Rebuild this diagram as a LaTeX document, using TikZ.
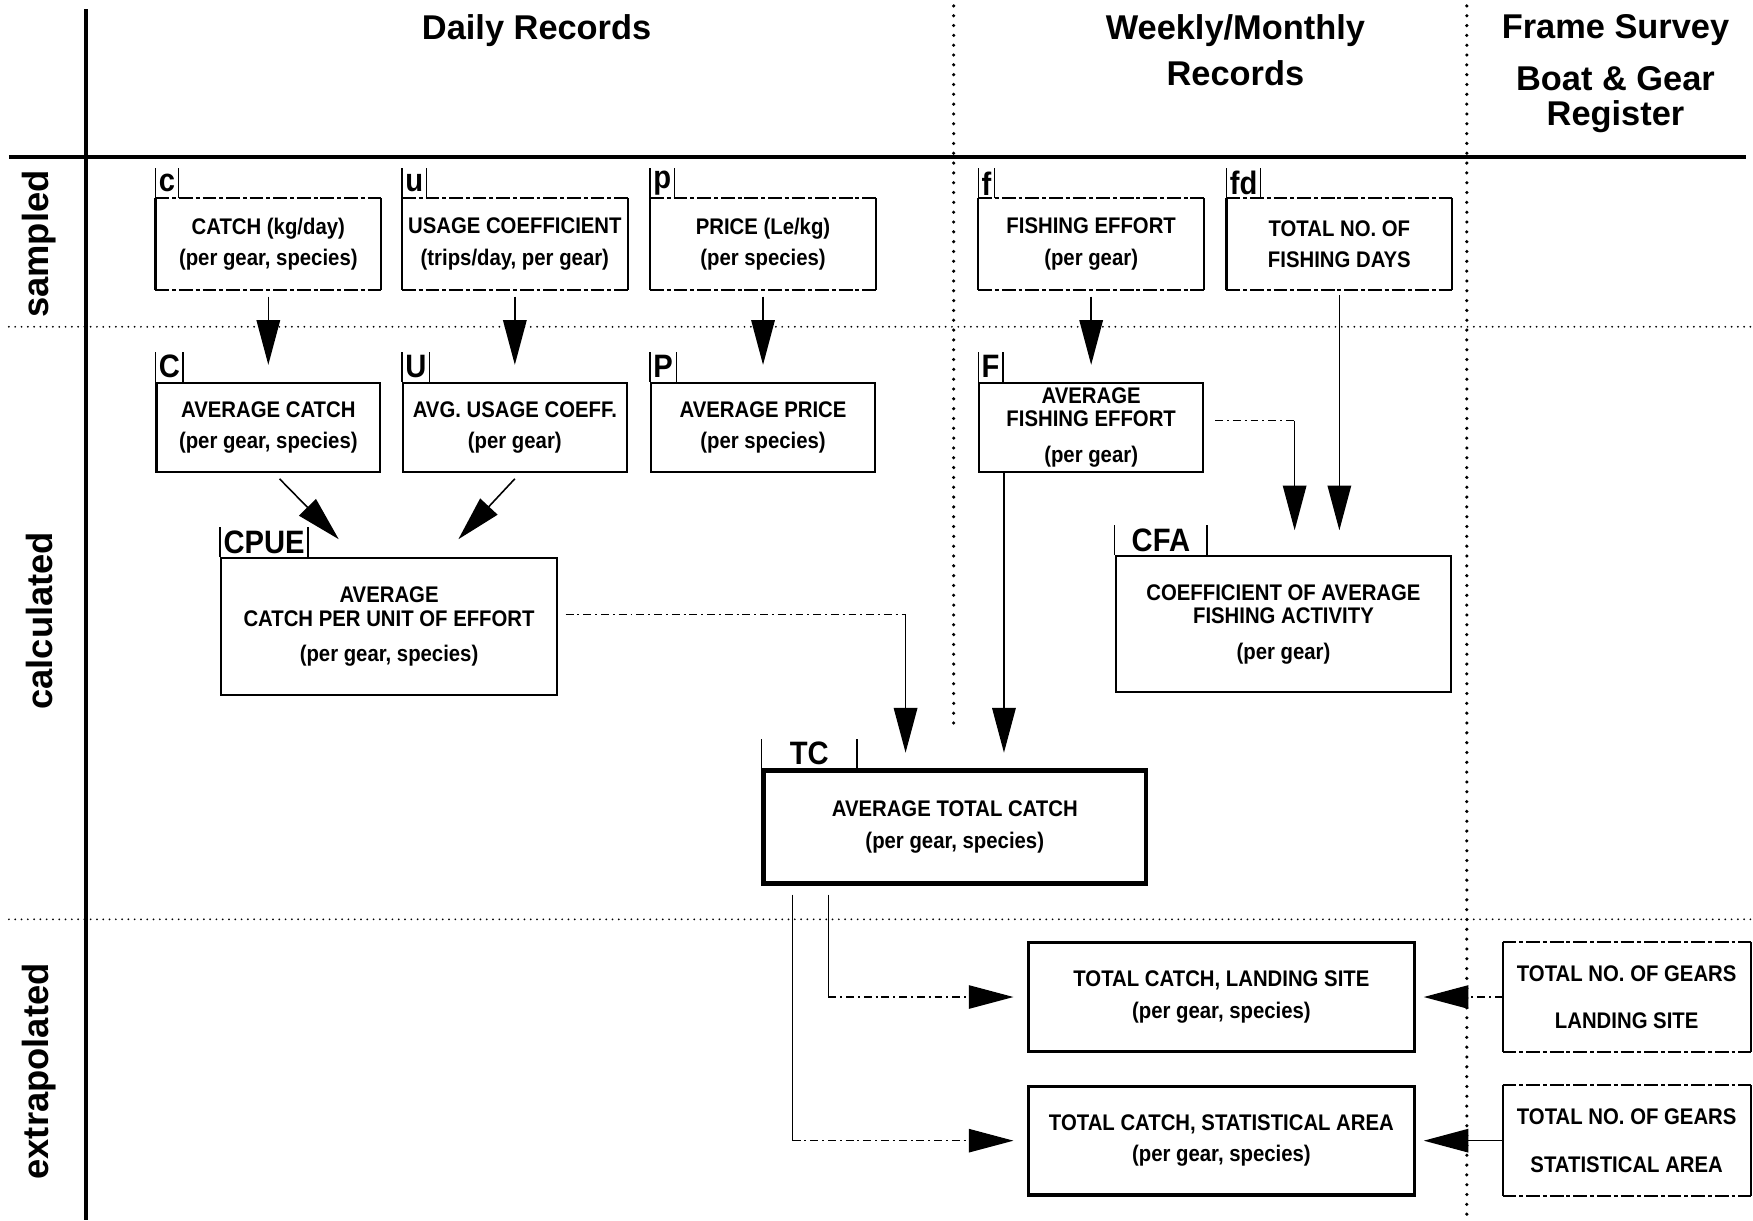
\documentclass[tikz,border=0pt]{standalone}
\usepackage{fontspec}
\setmainfont{Liberation Sans}
\newfontfamily\boxfont{Liberation Sans}[FakeStretch=0.9]
\usetikzlibrary{arrows.meta}

\begin{document}
\begin{tikzpicture}[
  box/.style={draw, line width=1.1pt, minimum width=4cm, minimum height=1.6cm,
    inner sep=1pt, align=center, font=\boxfont\bfseries\fontsize{11.5}{12}\selectfont},
  dashside/.style={line width=1.1pt, dash pattern=on 7pt off 1.5pt on 2pt off 1.5pt},
  solidside/.style={line width=1.1pt},
  sampled/.style={box, draw=none,
    append after command={(\tikzlastnode.north west) edge[dashside] (\tikzlastnode.north east)
      (\tikzlastnode.south west) edge[dashside] (\tikzlastnode.south east)
      (\tikzlastnode.north west) edge[solidside] (\tikzlastnode.south west)
      (\tikzlastnode.north east) edge[solidside] (\tikzlastnode.south east)}},
  result/.style={box, line width=1.7pt, minimum width=6.9cm, minimum height=1.94cm},
  tab/.style={anchor=south west, inner xsep=1.5pt, inner ysep=0pt, minimum height=0.52cm,
    font=\boxfont\bfseries\fontsize{16.5}{16}\selectfont,
    append after command={(\tikzlastnode.south west) edge[line width=0.8pt] (\tikzlastnode.north west)
      (\tikzlastnode.south east) edge[line width=0.8pt] (\tikzlastnode.north east)}},
  arrow/.style={-{Triangle[length=0.8cm,width=0.42cm]}, line width=0.8pt},
  faint/.style={line width=0.6pt, dash pattern=on 4pt off 2pt on 1pt off 2pt},
  head/.style={font=\bfseries\fontsize{17.5}{18}\selectfont, align=center},
  row/.style={rotate=90, font=\bfseries\fontsize{18.5}{20}\selectfont},
  colline/.style={line width=1.8pt, line cap=round, dash pattern=on 0pt off 5pt},
  rowline/.style={line width=1pt, line cap=round, dash pattern=on 0pt off 3.2pt}
]
  \useasboundingbox (0,0) rectangle (31.36,21.826);

  \draw[line width=1.7pt] (1.54,21.66) -- (1.54,0);
  \draw[line width=1.7pt] (0.16,19.02) -- (31.24,19.02);
  \draw[colline] (17.06,21.72) -- (17.06,8.76);
  \draw[colline] (26.24,21.72) -- (26.24,0);
  \draw[rowline] (0.16,15.98) -- (31.36,15.98);
  \draw[rowline] (0.16,5.38) -- (31.36,5.38);

  \node[head] (daily) at (9.6,21.27) {Daily Records};
  \node[head] (weekly) at (22.1,20.93) {Weekly/Monthly\\[5.2pt]Records};
  \node[head] (frame) at (28.9,20.51) {Frame Survey\\[8.6pt]Boat \& Gear\\Register};

  \node[row] (sampledlab) at (0.7,17.46) {sampled};
  \node[row] (calclab) at (0.7,10.72) {calculated};
  \node[row] (extralab) at (0.7,2.66) {extrapolated};

  \node[sampled] (catch) at (4.8,17.46) {CATCH (kg/day)\\[4pt](per gear, species)};
  \node[sampled] (usage) at (9.21,17.46) {USAGE COEFFICIENT\\[4pt](trips/day, per gear)};
  \node[sampled] (price) at (13.65,17.46) {PRICE (Le/kg)\\[4pt](per species)};
  \node[sampled] (effort) at (19.52,17.46) {FISHING EFFORT\\[4pt](per gear)};
  \node[sampled] (days) at (23.96,17.46) {TOTAL NO. OF\\[4pt]FISHING DAYS};

  \node[tab] (catchtab) at (catch.north west) {c};
  \node[tab] (usagetab) at (usage.north west) {u};
  \node[tab] (pricetab) at (price.north west) {p};
  \node[tab] (efforttab) at (effort.north west) {f};
  \node[tab] (daystab) at (days.north west) {fd};

  \node[box] (avgcatch) at (4.8,14.18) {AVERAGE CATCH\\[4pt](per gear, species)};
  \node[box] (avgusage) at (9.21,14.18) {AVG. USAGE COEFF.\\[4pt](per gear)};
  \node[box] (avgprice) at (13.65,14.18) {AVERAGE PRICE\\[4pt](per species)};
  \node[box] (avgeffort) at (19.52,14.18) {AVERAGE\\FISHING EFFORT\\[6pt](per gear)};

  \node[tab] (avgcatchtab) at (avgcatch.north west) {C};
  \node[tab] (avgusagetab) at (avgusage.north west) {U};
  \node[tab] (avgpricetab) at (avgprice.north west) {P};
  \node[tab] (avgefforttab) at (avgeffort.north west) {F};

  \node[box, minimum width=6cm, minimum height=2.44cm] (cpue) at (6.96,10.62)
    {AVERAGE\\CATCH PER UNIT OF EFFORT\\[6pt](per gear, species)};
  \node[box, minimum width=6cm, minimum height=2.44cm] (cfa) at (22.96,10.66)
    {COEFFICIENT OF AVERAGE\\FISHING ACTIVITY\\[6pt](per gear)};
  \node[box, line width=2.3pt, minimum width=6.84cm, minimum height=2.02cm] (tc) at (17.08,7.03)
    {AVERAGE TOTAL CATCH\\[4pt](per gear, species)};

  \node[tab] (cpuetab) at (cpue.north west) {CPUE};
  \node[tab, minimum width=1.64cm] (cfatab) at (cfa.north west) {CFA};
  \node[tab, minimum width=1.7cm] (tctab) at (tc.north west) {TC};

  \node[result] (tcland) at (21.85,3.99) {TOTAL CATCH, LANDING SITE\\[4pt](per gear, species)};
  \node[result] (tcarea) at (21.85,1.42) {TOTAL CATCH, STATISTICAL AREA\\[4pt](per gear, species)};
  \node[sampled, minimum width=4.4cm, minimum height=1.94cm] (gearsland) at (29.1,3.99)
    {TOTAL NO. OF GEARS\\[12pt]LANDING SITE};
  \node[sampled, minimum width=4.4cm, minimum height=1.94cm] (gearsarea) at (29.1,1.42)
    {TOTAL NO. OF GEARS\\[12pt]STATISTICAL AREA};

  \foreach \a/\b in {catch/avgcatch, usage/avgusage, price/avgprice, effort/avgeffort}
    \draw[arrow, shorten <=0.12cm, shorten >=0.3cm] (\a) -- (\b);

  \draw[arrow] ([xshift=0.2cm,yshift=-0.1cm]avgcatch.south) -- ([xshift=-0.9cm,yshift=0.32cm]cpue.north);
  \draw[arrow] ([yshift=-0.1cm]avgusage.south) -- ([xshift=1.24cm,yshift=0.32cm]cpue.north);

  \coordinate (fcorner) at (23.16,14.3);
  \draw[faint, shorten <=0.2cm] (avgeffort.east |- fcorner) -- (fcorner);
  \draw[arrow, shorten >=0.44cm] (fcorner) -- (fcorner |- cfa.north);
  \draw[arrow, shorten <=0.1cm, shorten >=0.44cm] (days.south) -- (days.south |- cfa.north);

  \coordinate (cpuecorner) at (16.2,10.84);
  \draw[faint, shorten <=0.14cm] (cpue.east |- cpuecorner) -- (cpuecorner);
  \draw[arrow, shorten >=0.28cm] (cpuecorner) -- (cpuecorner |- tc.north);

  \coordinate (efftc) at (17.96,0);
  \draw[arrow, shorten >=0.28cm] (avgeffort.south -| efftc) -- (tc.north -| efftc);

  \coordinate (tcl) at (14.82,0);
  \coordinate (tca) at (14.18,0);
  \draw[line width=0.8pt, shorten <=0.16cm] (tc.south -| tcl) -- (tcland.west -| tcl);
  \draw[arrow, faint, shorten >=0.24cm] (tcland.west -| tcl) -- (tcland.west);
  \draw[line width=0.8pt, shorten <=0.16cm] (tc.south -| tca) -- (tcarea.west -| tca);
  \draw[arrow, faint, shorten >=0.24cm] (tcarea.west -| tca) -- (tcarea.west);

  \draw[arrow, faint, shorten >=0.14cm] (gearsland) -- (tcland);
  \draw[arrow, shorten >=0.14cm] (gearsarea) -- (tcarea);
\end{tikzpicture}
\end{document}
